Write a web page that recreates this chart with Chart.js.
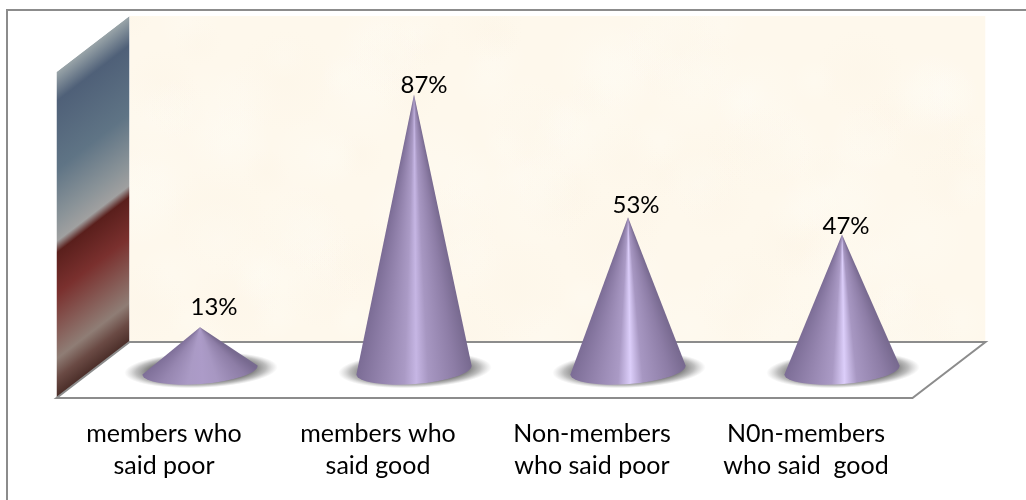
<!DOCTYPE html>
<html>
<head>
<meta charset="utf-8">
<style>
  html, body { margin: 0; padding: 0; background: #fff; }
  canvas { display: block; }
</style>
<script src="https://cdn.jsdelivr.net/npm/chart.js@4"></script>
</head>
<body>
<canvas id="coneChart" width="1026" height="500"></canvas>
<script>
const categories = [
    ['members who', 'said poor'],
    ['members who', 'said good'],
    ['Non-members', 'who said poor'],
    ['N0n-members', 'who said  good']
];
// the percentages printed on the picture
const printedValues = [13, 87, 53, 47];
// how tall the cones really are on the axis. the last two are drawn shorter than their printed value in the source
const coneHeights = [13, 87, 48, 42.5];
const labelNudgeX = [14, 10, 8, 4];
const labelNudgeY = [-20, -9, -12, -8];
const highlights = ['#ac9bc8', '#c6b6e4', '#dccefa', '#dccefa'];

const FONT = 'Lato, Carlito, sans-serif';

// 3d box around the plot
const DEPTH_X = 36.5;
const BACK_UP = 26;
const FRONT_DOWN = 30;

function drawBox(chart) {
    const ctx = chart.ctx;
    const area = chart.chartArea;
    const base = chart.scales.y.getPixelForValue(0);
    const backL = area.left + DEPTH_X, backR = area.right + DEPTH_X;
    const frontL = area.left - DEPTH_X, frontR = area.right - DEPTH_X;
    const backY = base - BACK_UP, frontY = base + FRONT_DOWN;
    const top = area.top;
    const slope = (frontY - backY) / (backL - frontL);

    // back wall with a bit of paper mottling
    ctx.save();
    ctx.beginPath();
    ctx.rect(backL, top, backR - backL, backY - top);
    ctx.clip();
    ctx.fillStyle = '#fef8ec';
    ctx.fillRect(backL, top, backR - backL, backY - top);
    for (let i = 0; i < 140; i++) {
        const px = backL + ((i * 0.618) % 1) * (backR - backL);
        const py = top + ((i * 0.382 + i * i * 0.0031) % 1) * (backY - top);
        const r = 24 + (i % 5) * 7;
        const blob = ctx.createRadialGradient(px, py, 0, px, py, r);
        const tone = i % 3 === 0 ? '252,244,230' : '255,252,245';
        blob.addColorStop(0, 'rgba(' + tone + ',0.3)');
        blob.addColorStop(1, 'rgba(' + tone + ',0)');
        ctx.fillStyle = blob;
        ctx.fillRect(px - r, py - r, r * 2, r * 2);
    }
    ctx.restore();

    // left wall, the gradient is sheared along the wall
    ctx.save();
    ctx.beginPath();
    ctx.moveTo(frontL, top + (frontY - backY));
    ctx.lineTo(backL, top);
    ctx.lineTo(backL, backY);
    ctx.lineTo(frontL, frontY);
    ctx.closePath();
    ctx.clip();
    ctx.transform(1, -slope, 0, 1, frontL, top + (frontY - backY));
    const h = backY - top;
    const grad = ctx.createLinearGradient(0, 0, 0, h);
    grad.addColorStop(0, '#9aa5a9');
    grad.addColorStop(0.09, '#4f6078');
    grad.addColorStop(0.3, '#5f7485');
    grad.addColorStop(0.45, '#8a9398');
    grad.addColorStop(0.52, '#a0a0a0');
    grad.addColorStop(0.555, '#5a1f1c');
    grad.addColorStop(0.68, '#7a302e');
    grad.addColorStop(0.88, '#8f7d75');
    grad.addColorStop(0.94, '#6a4a44');
    grad.addColorStop(1, '#4a2d28');
    ctx.fillStyle = grad;
    ctx.fillRect(0, 0, backL - frontL, h);
    ctx.restore();

    // floor
    ctx.save();
    ctx.beginPath();
    ctx.moveTo(backL, backY);
    ctx.lineTo(backR, backY);
    ctx.lineTo(frontR, frontY);
    ctx.lineTo(frontL, frontY);
    ctx.closePath();
    ctx.fillStyle = '#fff';
    ctx.fill();
    ctx.strokeStyle = '#8c8c8c';
    ctx.lineWidth = 2;
    ctx.stroke();
    ctx.restore();
}

function drawCone(ctx, bar, index) {
    const cx = bar.x;
    const rx = bar.width / 2;
    const cy = bar.base + 2;
    const ry = 14;
    const tilt = -4.5 * Math.PI / 180;

    // shadow on the floor
    ctx.save();
    ctx.translate(cx + 1, cy);
    ctx.rotate(tilt / 2);
    ctx.scale(1, 18 / (rx + 19));
    const shadow = ctx.createRadialGradient(0, 0, 0, 0, 0, rx + 19);
    shadow.addColorStop(0, 'rgba(70,70,70,0.9)');
    shadow.addColorStop(0.68, 'rgba(85,85,85,0.8)');
    shadow.addColorStop(0.85, 'rgba(110,110,110,0.45)');
    shadow.addColorStop(1, 'rgba(150,150,150,0)');
    ctx.fillStyle = shadow;
    ctx.beginPath();
    ctx.arc(0, 0, rx + 19, 0, Math.PI * 2);
    ctx.fill();
    ctx.restore();

    // cone body, a conic gradient from the tip so the shading meets at the apex
    const shades = [
        [1.1, '#766a8e'],
        [1, '#786a90'],
        [0.85, '#8d7da6'],
        [0.62, '#a797c2'],
        [0.52, highlights[index]],
        [0.42, '#aa9ac5'],
        [0.25, '#9686b0'],
        [0, '#7a6b94'],
        [-0.1, '#7a6b94']
    ];
    const conic = ctx.createConicGradient(0, cx, bar.y);
    shades.forEach(s => {
        const angle = Math.atan2(cy - bar.y, cx - rx + 2 * rx * s[0] - cx);
        conic.addColorStop(angle / (2 * Math.PI), s[1]);
    });
    ctx.save();
    ctx.beginPath();
    ctx.moveTo(cx, bar.y);
    ctx.ellipse(cx, cy, rx, ry, tilt, Math.PI, 0, true);
    ctx.closePath();
    ctx.fillStyle = conic;
    ctx.fill();
    ctx.restore();
}

const conePlugin = {
    id: 'cones',
    beforeDatasetsDraw(chart) {
        drawBox(chart);
    },
    afterDatasetsDraw(chart) {
        const ctx = chart.ctx;
        const bars = chart.getDatasetMeta(0).data;
        bars.forEach((bar, i) => drawCone(ctx, bar, i));

        ctx.save();
        ctx.fillStyle = '#000';
        ctx.font = '24px ' + FONT;
        ctx.textAlign = 'center';
        ctx.textBaseline = 'middle';
        bars.forEach((bar, i) => {
            ctx.fillText(printedValues[i] + '%', bar.x + labelNudgeX[i], bar.y + labelNudgeY[i]);
        });
        ctx.restore();
    },
    afterDraw(chart) {
        // only the top and left of the frame are in the picture
        const ctx = chart.ctx;
        ctx.save();
        ctx.strokeStyle = '#8c8c8c';
        ctx.lineWidth = 2;
        ctx.beginPath();
        ctx.moveTo(7, 500);
        ctx.lineTo(7, 10);
        ctx.lineTo(1026, 10);
        ctx.stroke();
        ctx.restore();
    }
};

new Chart(document.getElementById('coneChart'), {
    type: 'bar',
    data: {
        labels: categories,
        datasets: [{
            data: coneHeights,
            backgroundColor: 'transparent',
            borderWidth: 0,
            categoryPercentage: 1,
            barPercentage: 0.54
        }]
    },
    plugins: [conePlugin],
    options: {
        responsive: false,
        animation: false,
        layout: { padding: { left: 93, right: 77, top: 16, bottom: 0 } },
        plugins: {
            legend: { display: false },
            tooltip: { enabled: false }
        },
        scales: {
            x: {
                afterFit(scale) { scale.height = 132; },
                grid: { display: false, drawTicks: false },
                border: { display: false },
                ticks: {
                    color: '#000',
                    font: { family: FONT, size: 25, lineHeight: 1.27 },
                    padding: 50,
                    labelOffset: -36,
                    maxRotation: 0,
                    autoSkip: false
                }
            },
            y: {
                display: false,
                min: 0,
                max: 112
            }
        }
    }
});
</script>
</body>
</html>
